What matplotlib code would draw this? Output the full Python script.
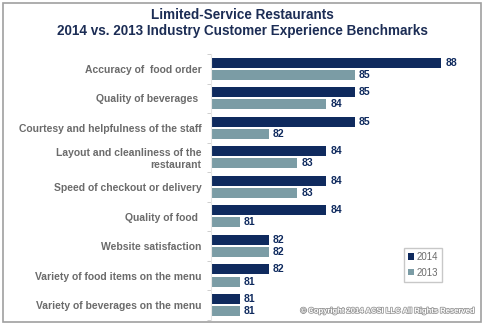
import matplotlib.pyplot as plt
import matplotlib.patheffects as pe
from matplotlib.patches import Rectangle
import numpy as np

plt.rcParams['font.family'] = ['Liberation Sans', 'DejaVu Sans']

categories = [
    "Accuracy of  food order",
    "Quality of beverages ",
    "Courtesy and helpfulness of the staff",
    "Layout and cleanliness of the\nrestaurant",
    "Speed of checkout or delivery",
    "Quality of food ",
    "Website satisfaction",
    "Variety of food items on the menu",
    "Variety of beverages on the menu",
]
scores_2014 = [88, 85, 85, 84, 84, 84, 82, 82, 81]
scores_2013 = [85, 84, 82, 83, 83, 81, 82, 81, 81]
series_names = ["2014", "2013"]

navy = "#0f2a5e"
teal = "#7b9ca5"
label_gray = "#6b6b6b"

fig = plt.figure(figsize=(4.85, 3.24), dpi=100)
fig.patches.append(Rectangle((3 / 485, 2 / 324), 478 / 485, 319 / 324,
                             transform=fig.transFigure, fill=False,
                             edgecolor="#a0a0a0", linewidth=1.2))

ax = fig.add_axes([211 / 485, 4 / 324, 259 / 485, 266 / 324])
y = np.arange(len(categories))
base = 80
ax.barh(y - 0.21, np.array(scores_2014) - base, left=base, height=0.34,
        color=navy, label=series_names[0])
ax.barh(y + 0.2, np.array(scores_2013) - base, left=base, height=0.34,
        color=teal, label=series_names[1])

for i in range(len(categories)):
    ax.text(scores_2014[i] + 0.14, y[i] - 0.21, str(scores_2014[i]),
            va="center", ha="left", fontsize=7.5, fontweight="bold", color=navy)
    ax.text(scores_2013[i] + 0.14, y[i] + 0.2, str(scores_2013[i]),
            va="center", ha="left", fontsize=7.5, fontweight="bold", color=navy)

ax.set_xlim(80, 89)
ax.set_ylim(len(categories) - 0.5, -0.5)
ax.set_xticks([])
ax.set_yticks(y)
ax.set_yticklabels(categories, fontsize=7.5, fontweight="bold", color=label_gray)
ax.set_yticks(np.arange(len(categories) + 1) - 0.5, minor=True)
ax.tick_params(axis="y", which="major", length=0, pad=7)
ax.tick_params(axis="y", which="minor", length=3, color="#c8c8c8")
for s in ["top", "right", "bottom"]:
    ax.spines[s].set_visible(False)
ax.spines["left"].set_color("#e6e6e6")
ax.patch.set_alpha(0)

leg = ax.legend(loc="lower right", bbox_to_anchor=(0.911, 0.124), fontsize=7,
                handlelength=0.6, handleheight=0.6, handletextpad=0.2,
                borderpad=0.45, labelspacing=0.6, fancybox=False,
                edgecolor="#c8c8c8", framealpha=1)
for t in leg.get_texts():
    t.set_color(label_gray)

fig.text(0.5, 0.975, "Limited-Service Restaurants\n2014 vs. 2013 Industry Customer Experience Benchmarks",
         ha="center", va="top", fontsize=9.75, fontweight="bold", color="#1c2d55",
         linespacing=1.15)

fig.text(0.978, 0.028, "\u00a9 Copyright 2014 ACSI LLC All Rights Reserved",
         ha="right", va="bottom", fontsize=5.5, fontweight="bold", color="white",
         path_effects=[pe.withStroke(linewidth=1.2, foreground="#9a9a9a")])

fig.savefig("out.png", dpi=100)
